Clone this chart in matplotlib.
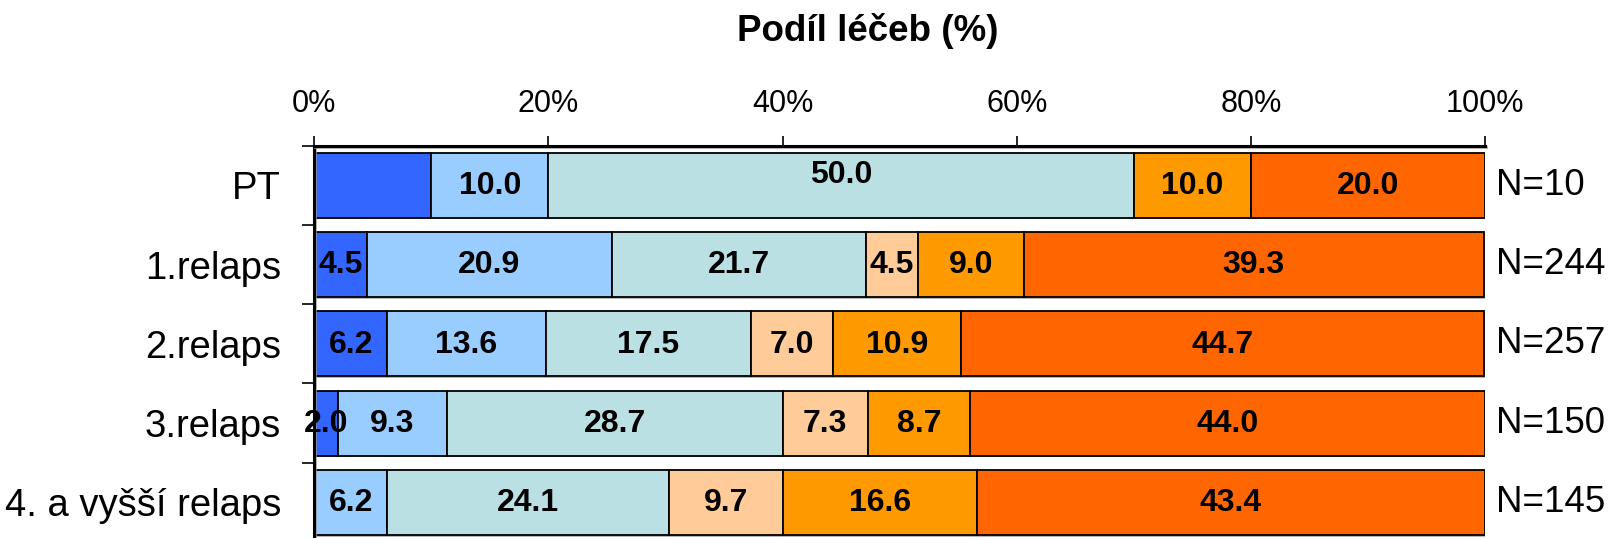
import matplotlib
matplotlib.use("Agg")
import matplotlib.pyplot as plt
import matplotlib.patheffects as pe
import numpy as np

# Treatment shares (%) per line of therapy
categories = ["PT", "1.relaps", "2.relaps", "3.relaps", "4. a vyšší relaps"]
counts = [10, 244, 257, 150, 145]
share_a = [10.0, 4.5, 6.2, 2.0, 0.0]
share_b = [10.0, 20.9, 13.6, 9.3, 6.2]
share_c = [50.0, 21.7, 17.5, 28.7, 24.1]
share_d = [0.0, 4.5, 7.0, 7.3, 9.7]
share_e = [10.0, 9.0, 10.9, 8.7, 16.6]
share_f = [20.0, 39.3, 44.7, 44.0, 43.4]
x_ticks = [0, 20, 40, 60, 80, 100]
x_tick_labels = ["0%", "20%", "40%", "60%", "80%", "100%"]
title = "Podíl léčeb (%)"

series = [share_a, share_b, share_c, share_d, share_e, share_f]
colors = ["#3366FF", "#99CCFF", "#BBE0E3", "#FFCC99", "#FF9900", "#FF6600"]
# segments whose value label is left out, and labels nudged upward (points)
hidden_labels = {(0, 0)}
label_lift = {(0, 2): 8}

plt.rcParams["font.family"] = ["Liberation Sans", "DejaVu Sans"]

W, H = 1614, 538
fig = plt.figure(figsize=(W / 100, H / 100), dpi=100)
left_px, right_px, top_px, bottom_px = 314.3, 1485.0, 145.7, 542.0
ax = fig.add_axes([left_px / W, (H - bottom_px) / H,
                   (right_px - left_px) / W, (bottom_px - top_px) / H])

y = np.arange(len(categories))
shadow = [pe.SimplePatchShadow(offset=(0.6, -1.2), shadow_rgbFace="#888888", alpha=0.6),
          pe.Normal()]

lefts = np.zeros(len(categories))
for si, vals in enumerate(series):
    vals = np.asarray(vals, dtype=float)
    bars = ax.barh(y, vals, left=lefts, height=0.82, color=colors[si],
                   edgecolor="black", linewidth=1.3, zorder=2)
    for ri, b in enumerate(bars):
        if vals[ri] <= 0:
            b.set_visible(False)
            continue
        b.set_path_effects(shadow)
        if (ri, si) in hidden_labels:
            continue
        ax.annotate(f"{vals[ri]:.1f}", (lefts[ri] + vals[ri] / 2, ri),
                    xytext=(0, label_lift.get((ri, si), 0) - 0.5),
                    textcoords="offset points", ha="center", va="center",
                    fontsize=23, fontweight="bold", color="black", zorder=4)
    lefts += vals

for ri, n in enumerate(counts):
    ax.annotate(f"N={n}", (100, ri), xytext=(8, 0), textcoords="offset points",
                ha="left", va="center", fontsize=26.5, annotation_clip=False)

ax.set_xlim(0, 100)
ax.set_ylim(len(categories) - 0.5, -0.5)

ax.xaxis.tick_top()
ax.set_xticks(x_ticks)
ax.set_xticklabels(x_tick_labels, fontsize=22)
ax.tick_params(axis="x", which="major", direction="out", length=7, width=1.2,
               pad=12.5, colors="black")

ax.set_yticks(np.arange(-0.5, len(categories), 1.0))
ax.set_yticklabels([])
ax.set_yticks(y, minor=True)
ax.set_yticklabels(categories, minor=True, fontsize=27.5)
ax.tick_params(axis="y", which="major", direction="out", length=9, width=1.2)
ax.tick_params(axis="y", which="minor", length=0, pad=24)

for side in ("right", "bottom"):
    ax.spines[side].set_visible(False)
for side in ("top", "left"):
    ax.spines[side].set_linewidth(2.2)
    ax.spines[side].set_path_effects(
        [pe.SimpleLineShadow(offset=(0.8, -0.8), shadow_color="#999999", alpha=0.7),
         pe.Normal()])

fig.text(867.5 / W, 1 - 31 / H, title, ha="center", va="center",
         fontsize=26.5, fontweight="bold")

fig.savefig("out.png", dpi=100, facecolor="white")
